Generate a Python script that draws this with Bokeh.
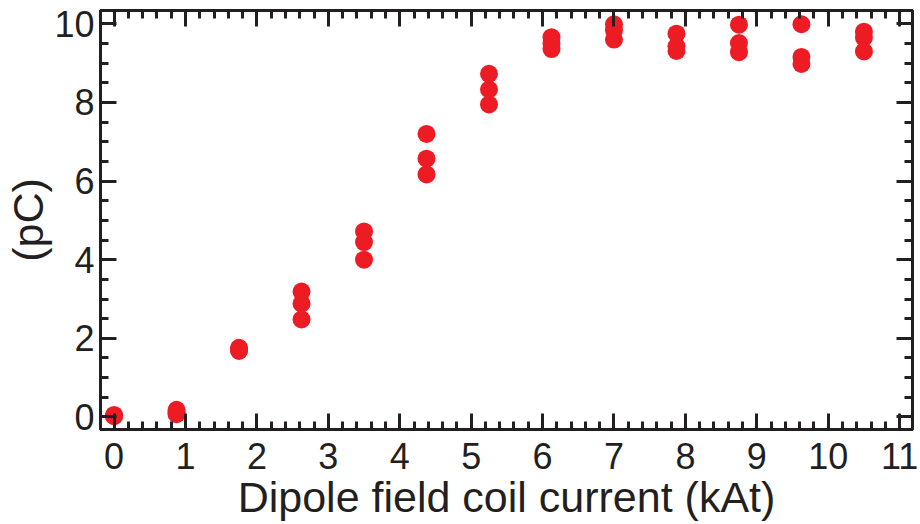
from bokeh.plotting import figure
from bokeh.models import LinearAxis, FixedTicker, Range1d, ColumnDataSource, CustomJSTickFormatter
from bokeh.embed import file_html
from bokeh.resources import INLINE

# Data (3 shots per coil current)
coil_current = [0.0, 0.875, 1.75, 2.625, 3.5, 4.375, 5.25,
                6.125, 7.0, 7.875, 8.75, 9.625, 10.5]
shot_1 = [0.02, 0.07, 1.68, 2.48, 4.00, 6.17, 7.95, 9.36, 9.60, 9.31, 9.28, 8.98, 9.30]
shot_2 = [0.03, 0.12, 1.72, 2.88, 4.45, 6.57, 8.33, 9.50, 9.84, 9.43, 9.51, 9.16, 9.65]
shot_3 = [0.05, 0.18, 1.76, 3.19, 4.72, 7.20, 8.73, 9.66, 9.99, 9.75, 9.98, 9.99, 9.80]

x_major_ticks = [0, 1, 2, 3, 4, 5, 6, 7, 8, 9, 10, 11]
x_minor_ticks = [round(i * 0.2, 1) for i in range(0, 56)]
y_major_ticks = [0, 2, 4, 6, 8, 10]
y_minor_ticks = [i * 0.5 for i in range(0, 21)]

x_label = "Dipole field coil current (kAt)"
y_label = "(pC)"

xs = coil_current * 3
ys = shot_1 + shot_2 + shot_3
src = ColumnDataSource(dict(x=xs, y=ys))

INK = "#231f20"
RED = "#ed1c24"
FONT = "Liberation Sans"

p = figure(width=920, height=524, output_backend="svg", toolbar_location=None,
           x_range=Range1d(-0.19, 11.18), y_range=Range1d(-0.32, 10.34),
           min_border_left=100, min_border_right=8, min_border_top=10,
           min_border_bottom=95, x_axis_location=None, y_axis_location=None)
p.background_fill_color = "white"
p.border_fill_color = "white"
p.grid.visible = False
p.outline_line_color = INK
p.outline_line_width = 3

p.scatter("x", "y", source=src, size=18, fill_color=RED, line_color=None)


def style(ax, ticks, minor, show_labels):
    ax.ticker = FixedTicker(ticks=ticks, minor_ticks=minor)
    ax.axis_line_color = INK
    ax.axis_line_width = 3
    ax.major_tick_line_color = INK
    ax.major_tick_line_width = 3
    ax.minor_tick_line_color = INK
    ax.minor_tick_line_width = 3
    ax.major_tick_in = 16
    ax.major_tick_out = 0
    ax.minor_tick_in = 8
    ax.minor_tick_out = 0
    if show_labels:
        ax.major_label_text_font = FONT
        ax.major_label_text_font_size = "36px"
        ax.major_label_text_color = INK
        ax.axis_label_text_font = FONT
        ax.axis_label_text_font_size = "43px"
        ax.axis_label_text_font_style = "normal"
        ax.axis_label_text_color = INK
    else:
        ax.formatter = CustomJSTickFormatter(code="return ''")
        ax.major_label_text_font_size = "1px"
        ax.major_label_standoff = 0


bottom = LinearAxis(axis_label=x_label)
style(bottom, x_major_ticks, x_minor_ticks, True)
bottom.major_label_standoff = 13
bottom.axis_label_standoff = 1
p.add_layout(bottom, "below")

left = LinearAxis(axis_label=y_label)
style(left, y_major_ticks, y_minor_ticks, True)
left.major_label_standoff = 6
left.axis_label_standoff = -1
p.add_layout(left, "left")

top = LinearAxis()
style(top, x_major_ticks, x_minor_ticks, False)
p.add_layout(top, "above")

right = LinearAxis()
style(right, y_major_ticks, y_minor_ticks, False)
p.add_layout(right, "right")

open("out.html", "w").write(file_html(p, INLINE))
